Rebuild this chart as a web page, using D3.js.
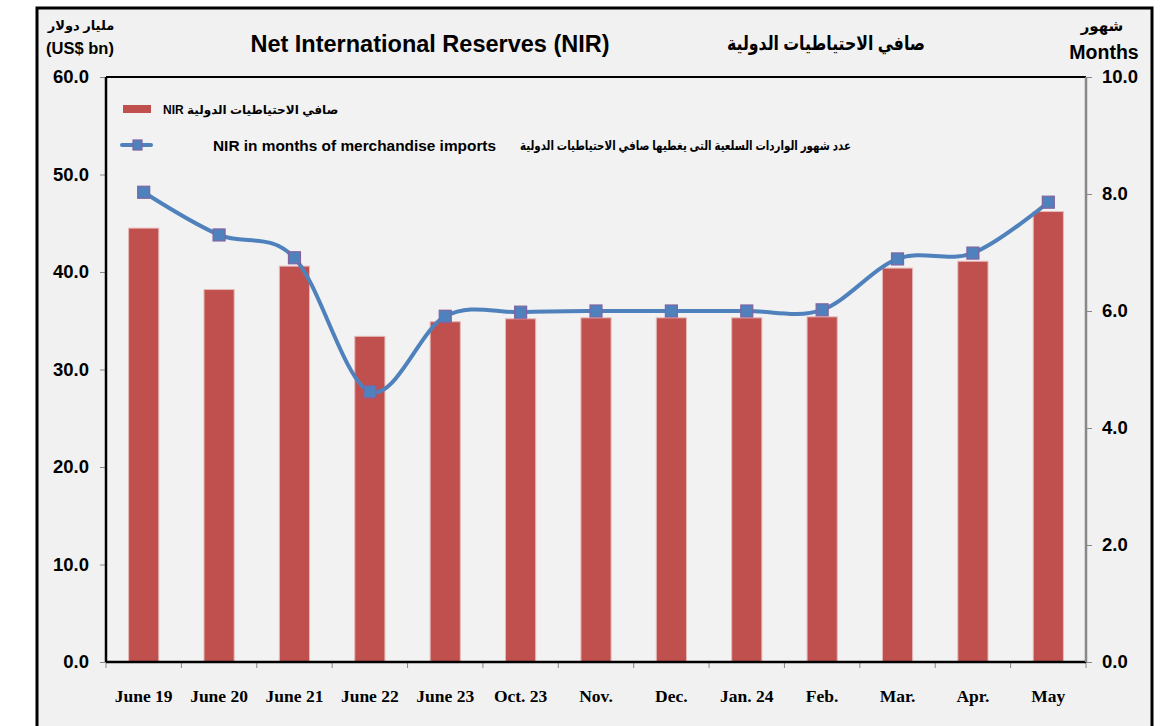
<!DOCTYPE html>
<html>
<head>
<meta charset="utf-8">
<script src="https://cdn.jsdelivr.net/npm/d3@7"></script>
<style>
  body { margin: 0; background: #fff; }
  svg text { font-family: "Liberation Sans", Arial, "DejaVu Sans", sans-serif; font-weight: bold; fill: #000; }
  .xlab text { font-family: "Liberation Serif", "Times New Roman", serif; font-size: 17.5px; font-weight: bold; }
</style>
</head>
<body>
<svg id="chart" width="1160" height="726"></svg>
<script>
(function(){

let categories = ["June 19", "June 20", "June 21", "June 22", "June 23", "Oct. 23",
                  "Nov.", "Dec.", "Jan. 24", "Feb.", "Mar.", "Apr.", "May"];
let nirValues = [44.5, 38.2, 40.6, 33.4, 34.9, 35.2, 35.3, 35.3, 35.3, 35.4, 40.4, 41.1, 46.2];
let monthsValues = [8.03, 7.30, 6.91, 4.62, 5.91, 5.98, 6.00, 6.00, 6.00, 6.02, 6.89, 6.99, 7.86];
let leftTicks = [0, 10, 20, 30, 40, 50, 60];
let rightTicks = [0, 2, 4, 6, 8, 10];

let margin = {top: 77, right: 74, bottom: 64, left: 106},
  width = 1160 - margin.left - margin.right,
  height = 726 - margin.top - margin.bottom;

let svg = d3.select("#chart");

// frame
svg.append("rect")
    .attr("x", 37).attr("y", 8)
    .attr("width", 1115).attr("height", 740)
    .attr("fill", "#f1f1f1")
    .attr("stroke", "#000")
    .attr("stroke-width", 3);

let g = svg.append("g")
    .attr("transform", "translate(" + margin.left + "," + margin.top + ")");

g.append("rect")
    .attr("width", width).attr("height", height)
    .attr("fill", "#f2f2f2");

let x = d3.scaleBand().domain(categories).range([0, width]).paddingInner(0.6).paddingOuter(0.3);
let xb = d3.scaleBand().domain(categories).range([0, width]);
let yL = d3.scaleLinear().domain([0, 60]).range([height, 0]);
let yR = d3.scaleLinear().domain([0, 10]).range([height, 0]);

// bars
g.selectAll("rect.bar")
    .data(nirValues)
    .enter().append("rect")
    .attr("class", "bar")
    .attr("x", (d, i) => x(categories[i]))
    .attr("y", d => yL(d))
    .attr("width", x.bandwidth())
    .attr("height", d => height - yL(d))
    .attr("fill", "#c0504d")
    .attr("stroke", "#e6b9b8")
    .attr("stroke-width", 1);

// left axis
let axL = g.append("g")
    .call(d3.axisLeft(yL).tickValues(leftTicks).tickSize(6).tickFormat(d3.format(".1f")));
axL.select(".domain").remove();
axL.selectAll(".tick line").attr("stroke", "#888");
axL.selectAll(".tick text").attr("x", -17)
    .style("font-size", "18.5px").style("font-weight", "bold")
    .style("font-family", "Liberation Sans, Arial, sans-serif");

// right axis
let axR = g.append("g")
    .attr("transform", "translate(" + width + ",0)")
    .call(d3.axisRight(yR).tickValues(rightTicks).tickSize(6).tickFormat(d3.format(".1f")));
axR.select(".domain").remove();
axR.selectAll(".tick line").attr("stroke", "#888");
axR.selectAll(".tick text").attr("x", 16)
    .style("font-size", "18.5px").style("font-weight", "bold")
    .style("font-family", "Liberation Sans, Arial, sans-serif");

// bottom axis ticks at category boundaries
g.append("g")
    .selectAll("line")
    .data(categories.concat(["end"]))
    .enter().append("line")
    .attr("x1", (d, i) => i * xb.step())
    .attr("x2", (d, i) => i * xb.step())
    .attr("y1", height).attr("y2", height + 6)
    .attr("stroke", "#888");

let xl = g.append("g").attr("class", "xlab");
xl.selectAll("text")
    .data(categories)
    .enter().append("text")
    .attr("x", d => xb(d) + xb.bandwidth() / 2)
    .attr("y", height + 40)
    .attr("text-anchor", "middle")
    .text(d => d);

// plot frame lines
g.append("line").attr("x1", 0).attr("x2", width).attr("y1", 0).attr("y2", 0)
    .attr("stroke", "#000").attr("stroke-width", 2);
g.append("line").attr("x1", 0).attr("x2", 0).attr("y1", 0).attr("y2", height)
    .attr("stroke", "#000").attr("stroke-width", 2.5);
g.append("line").attr("x1", 0).attr("x2", width).attr("y1", height).attr("y2", height)
    .attr("stroke", "#000").attr("stroke-width", 2.5);
g.append("line").attr("x1", width).attr("x2", width).attr("y1", 0).attr("y2", height)
    .attr("stroke", "#888").attr("stroke-width", 2.5);

// months line
let line = d3.line()
    .x((d, i) => xb(categories[i]) + xb.bandwidth() / 2)
    .y(d => yR(d))
    .curve(d3.curveCardinal.tension(0));

g.append("path")
    .datum(monthsValues)
    .attr("d", line)
    .attr("fill", "none")
    .attr("stroke", "#4f81bd")
    .attr("stroke-width", 4)
    .attr("stroke-linecap", "round");

g.selectAll("rect.mk")
    .data(monthsValues)
    .enter().append("rect")
    .attr("class", "mk")
    .attr("x", (d, i) => xb(categories[i]) + xb.bandwidth() / 2 - 6)
    .attr("y", d => yR(d) - 6)
    .attr("width", 12).attr("height", 12)
    .attr("fill", "#4f81bd")
    .attr("stroke", "#8064a2")
    .attr("stroke-width", 1.2);

// titles
svg.append("text").attr("x", 430).attr("y", 52).attr("text-anchor", "middle")
    .style("font-size", "23.5px").style("font-weight", "bold")
    .text("Net International Reserves (NIR)");
svg.append("text").attr("x", 826).attr("y", 50).attr("text-anchor", "middle")
    .style("font-size", "19.5px").style("font-weight", "bold")
    .attr("textLength", 198).attr("lengthAdjust", "spacingAndGlyphs")
    .text("صافي الاحتياطيات الدولية");
svg.append("text").attr("x", 81).attr("y", 30).attr("text-anchor", "middle")
    .style("font-size", "13px")
    .text("مليار دولار");
svg.append("text").attr("x", 80).attr("y", 54).attr("text-anchor", "middle")
    .style("font-size", "16.5px").text("(US$ bn)");
svg.append("text").attr("x", 1102).attr("y", 31).attr("text-anchor", "middle")
    .style("font-size", "15px").text("شهور");
svg.append("text").attr("x", 1104).attr("y", 59).attr("text-anchor", "middle")
    .style("font-size", "19.5px").text("Months");

// legend
svg.append("rect").attr("x", 123).attr("y", 105).attr("width", 28).attr("height", 8)
    .attr("fill", "#c0504d");
svg.append("text").attr("x", 163).attr("y", 114).attr("direction", "ltr")
    .style("font-size", "12px").text("NIR صافي الاحتياطيات الدولية");

svg.append("line").attr("x1", 122).attr("x2", 151).attr("y1", 145).attr("y2", 145)
    .attr("stroke", "#4f81bd").attr("stroke-width", 4).attr("stroke-linecap", "round");
svg.append("rect").attr("x", 133).attr("y", 140).attr("width", 9).attr("height", 10)
    .attr("fill", "#4f81bd").attr("stroke", "#8064a2").attr("stroke-width", 1.2);
svg.append("text").attr("x", 213).attr("y", 151)
    .style("font-size", "15.4px").style("font-weight", "bold")
    .text("NIR in months of merchandise imports");
svg.append("text").attr("x", 851).attr("y", 150).attr("text-anchor", "end")
    .style("font-size", "13px")
    .attr("textLength", 331).attr("lengthAdjust", "spacingAndGlyphs")
    .text("عدد شهور الواردات السلعية التى يغطيها صافي الاحتياطيات الدولية");

})();
</script>
</body>
</html>
